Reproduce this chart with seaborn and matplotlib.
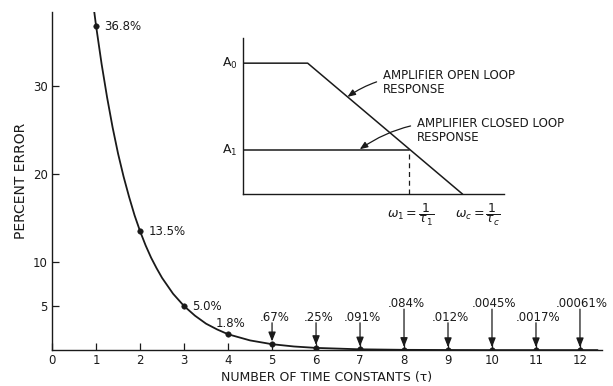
import matplotlib
matplotlib.use('Agg')
import matplotlib.pyplot as plt
import seaborn as sns

sns.set_style('ticks')
plt.rcParams['font.family'] = ['DejaVu Sans']
plt.rcParams['mathtext.fontset'] = 'dejavusans'

# Percent error after n time constants
tau = [1, 2, 3, 4, 5, 6, 7, 8, 9, 10, 11, 12]
pct = [36.8, 13.5, 5.0, 1.8, 0.67, 0.25, 0.091, 0.034, 0.012, 0.0045, 0.0017, 0.00061]
pct_labels = ['36.8%', '13.5%', '5.0%', '1.8%', '.67%', '.25%', '.091%', '.084%',
              '.012%', '.0045%', '.0017%', '.00061%']

# curve
curve_x = [0.93, 1.0, 1.125, 1.25, 1.375, 1.5, 1.625, 1.75, 1.875, 2.0, 2.125, 2.25,
           2.375, 2.5, 2.75, 3.0, 3.25, 3.5, 3.75, 4.0, 4.5, 5.0, 5.5, 6.0, 7.0, 8.0,
           9.0, 10.0, 12.4]
curve_y = [39.5, 36.8, 32.5, 28.7, 25.3, 22.3, 19.7, 17.4, 15.3, 13.5, 11.9, 10.5,
           9.3, 8.2, 6.4, 5.0, 3.9, 3.0, 2.35, 1.8, 1.1, 0.67, 0.41, 0.25, 0.09, 0.03,
           0.01, 0.0, 0.0]

x_ticks = [0, 1, 2, 3, 4, 5, 6, 7, 8, 9, 10, 11, 12]
y_ticks = [5, 10, 20, 30]

# inset: amplifier response (schematic units)
open_x = [0.0, 0.248, 0.84]
open_y = [0.84, 0.84, 0.0]
closed_x = [0.0, 0.637]
closed_y = [0.282, 0.282]

ink = '#1a1a1a'
fs = 8.5
arrow = '-|>,head_length=0.55,head_width=0.22'

fig = plt.figure(figsize=(6.13, 3.86), dpi=100)
ax = fig.add_axes([0.085, 0.093, 0.897, 0.876])

sns.lineplot(x=curve_x, y=curve_y, ax=ax, color=ink, linewidth=1.3, sort=False)
sns.scatterplot(x=tau, y=pct, ax=ax, color=ink, s=16, edgecolor=ink, zorder=5)

ax.set_xlim(0, 12.5)
ax.set_ylim(0, 38.4)
ax.set_xticks(x_ticks)
ax.set_yticks(y_ticks)
ax.tick_params(direction='in', length=5, width=0.9, colors=ink, labelsize=fs, pad=3)
for s in ['top', 'right']:
    ax.spines[s].set_visible(False)
for s in ['left', 'bottom']:
    ax.spines[s].set_linewidth(1.0)
    ax.spines[s].set_color(ink)
ax.set_xlabel('NUMBER OF TIME CONSTANTS (τ)', fontsize=9, color=ink, labelpad=3)
ax.set_ylabel('PERCENT ERROR', fontsize=10, color=ink, labelpad=4)

# labels on the first points
for i in range(3):
    ax.annotate(pct_labels[i], (tau[i], pct[i]), xytext=(6, 0), textcoords='offset points',
                ha='left', va='center', fontsize=fs, color=ink)
ax.annotate(pct_labels[3], (tau[3], pct[3]), xytext=(2, 8), textcoords='offset points',
            ha='center', va='center', fontsize=fs, color=ink)

# arrows to the small values
for i in range(4, 12):
    high = tau[i] in (8, 10, 12)
    ty = 5.3 if high else 3.75
    ax.text(tau[i] + 0.05, ty, pct_labels[i], ha='center', va='center',
            fontsize=fs, color=ink)
    ax.annotate('', xy=(tau[i], pct[i]), xytext=(tau[i], ty - 0.65),
                arrowprops=dict(arrowstyle=arrow, color=ink, lw=0.9,
                                shrinkA=0, shrinkB=2))

# inset
ins = fig.add_axes([0.396, 0.497, 0.427, 0.404])
ins.patch.set_alpha(0)
sns.lineplot(x=open_x, y=open_y, ax=ins, color=ink, linewidth=1.1, sort=False)
sns.lineplot(x=closed_x, y=closed_y, ax=ins, color=ink, linewidth=1.1, sort=False)
ins.plot([closed_x[1], closed_x[1]], [0, closed_y[1]], color=ink, lw=0.9, ls=(0, (4, 3)))
ins.set_xlim(0, 1)
ins.set_ylim(0, 1)
ins.set_xticks([])
ins.set_yticks([])
for s in ['top', 'right']:
    ins.spines[s].set_visible(False)
for s in ['left', 'bottom']:
    ins.spines[s].set_linewidth(1.0)
    ins.spines[s].set_color(ink)

ins.text(-0.02, open_y[0], r'$\mathrm{A_0}$', ha='right', va='center', fontsize=9, color=ink)
ins.text(-0.02, closed_y[0], r'$\mathrm{A_1}$', ha='right', va='center', fontsize=9, color=ink)

ins.annotate('AMPLIFIER OPEN LOOP\nRESPONSE', xy=(0.40, 0.624), xytext=(0.534, 0.715),
             ha='left', va='center', fontsize=8.5, color=ink, linespacing=1.05,
             arrowprops=dict(arrowstyle=arrow, color=ink, lw=0.9, shrinkA=2, shrinkB=0,
                             connectionstyle='arc3,rad=0.25'))
ins.annotate('AMPLIFIER CLOSED LOOP\nRESPONSE', xy=(0.447, 0.288), xytext=(0.664, 0.407),
             ha='left', va='center', fontsize=8.5, color=ink, linespacing=1.05,
             arrowprops=dict(arrowstyle=arrow, color=ink, lw=0.9, shrinkA=2, shrinkB=0,
                             connectionstyle='arc3,rad=0.25'))

ins.annotate(r'$\omega_1 = \dfrac{1}{\tau_1}$', xy=(0.64, 0), xycoords='data',
             xytext=(0, -15), textcoords='offset points', ha='center', va='center',
             fontsize=9, color=ink)
ins.annotate(r'$\omega_c = \dfrac{1}{\tau_c}$', xy=(0.90, 0), xycoords='data',
             xytext=(0, -15), textcoords='offset points', ha='center', va='center',
             fontsize=9, color=ink)

fig.savefig('out.png', dpi=100)
